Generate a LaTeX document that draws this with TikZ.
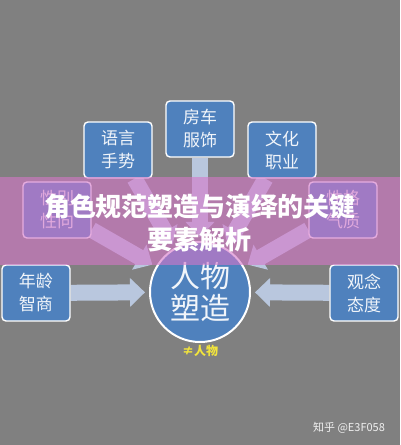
\documentclass[tikz,border=0pt]{standalone}
\usepackage{fontspec}
\newfontfamily\cjk{Noto Sans CJK SC}
\usetikzlibrary{arrows.meta,positioning}
\definecolor{bggray}{RGB}{128,128,128}
\definecolor{boxblue}{RGB}{79,129,189}
\definecolor{arrowblue}{RGB}{185,199,222}
\definecolor{bandpink}{RGB}{214,118,201}
\definecolor{labelyellow}{RGB}{242,228,60}
\pgfdeclarelayer{back}
\pgfdeclarelayer{arrowlayer}
\pgfsetlayers{back,arrowlayer,main}
\begin{document}
\begin{tikzpicture}[x=1pt, y=1pt,
  box/.style={draw=white, line width=1.4pt, rounded corners=4pt, fill=boxblue,
              text=white!92!boxblue, align=center, inner sep=0pt,
              font=\cjk\fontsize{17}{23}\selectfont,
              minimum width=68pt, minimum height=56pt},
  hubstyle/.style={circle, draw=white, line width=2pt, fill=boxblue,
              text=white!92!boxblue, align=center, inner sep=0pt,
              font=\cjk\fontsize{30}{34}\selectfont, minimum size=100pt},
  ar/.style={arrowblue, line width=16pt, shorten >=4pt,
             -{Triangle[length=15pt, width=28pt]}}
]
\begin{pgfonlayer}{back}
\fill[bggray] (0,0) rectangle (400,445);
\end{pgfonlayer}
\useasboundingbox (0,0) rectangle (400,445);

\node[hubstyle] (hub) at (200,153) {人物\\[-2pt]塑造};
\node[box] (cloth) at (200,316) {房车\\服饰};
\node[box] (speech) at (118,295) {语言\\手势};
\node[box] (career) at (282,295) {文化\\职业};
\node[box] (gender) at (57,235) {性别\\性向};
\node[box] (temper) at (343,235) {性格\\气质};
\node[box] (age) at (36,152) {年龄\\智商};
\node[box] (view) at (364,152) {观念\\态度};
\node[font=\cjk\bfseries\fontsize{12}{14}\selectfont, text=labelyellow] (neq) at (200,94) {≠人物};

\begin{pgfonlayer}{arrowlayer}
\foreach \src in {cloth,speech,career,gender,temper,age,view}
  \draw[ar] (\src) -- (hub);
\end{pgfonlayer}

% band with the title
\fill[bandpink, opacity=0.6] (0,180) rectangle (400,268);
\node[font=\cjk\bfseries\fontsize{26}{33}\selectfont, text=white, align=center]
  (title) at (200,222) {角色规范塑造与演绎的关键\\要素解析};

\node[font=\cjk\fontsize{11}{13}\selectfont, text=white!94!black] (mark) at (349,17) {知乎 @E3F058};
\end{tikzpicture}
\end{document}
